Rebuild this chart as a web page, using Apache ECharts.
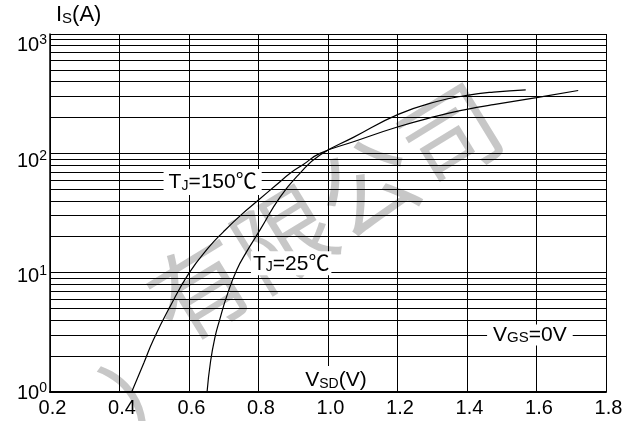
<!DOCTYPE html>
<html>
<head>
<meta charset="utf-8">
<script src="https://cdn.jsdelivr.net/npm/echarts@6/dist/echarts.min.js"></script>
<style>
html,body{margin:0;padding:0;background:#fff;}
#c{width:637px;height:421px;}
</style>
</head>
<body>
<div id="c"></div>
<script>
// ---- data ----
var xTicks = [0.2, 0.4, 0.6, 0.8, 1.0, 1.2, 1.4, 1.6, 1.8];
var yDecades = [1, 10, 100, 1000];
var yMinorLines = [2,3,4,5,6,7,8,9, 20,30,40,50,60,70,80,90, 200,300,400,500,600,700,800,900];

var t150V = [0.435, 0.470, 0.497, 0.545, 0.600, 0.656, 0.699, 0.750, 0.800, 0.850, 0.891, 0.930, 0.977, 1.073, 1.202, 1.313, 1.380, 1.437, 1.476, 1.600, 1.720];
var t150I = [1.0, 1.75, 2.72, 5.17, 9.9, 16.2, 22.0, 30.5, 40.6, 54, 68, 81, 100, 125, 167, 205, 228, 245, 256, 293, 336];

var t25V = [0.652, 0.662, 0.675, 0.688, 0.708, 0.737, 0.766, 0.804, 0.862, 0.919, 0.977, 1.073, 1.202, 1.313, 1.400, 1.476, 1.569];
var t25I = [1.0, 1.8, 2.9, 4.0, 6.27, 10.5, 15.0, 22.7, 43, 68, 97, 136, 212, 272, 306, 326, 340];

var labelTexts = {
  t150: '{b|T}{s|J}{b|=150℃}',
  t25: '{b|T}{s|J}{b|=25℃}',
  vgs: '{b|V}{s|GS}{b|=0V}',
  xName: '{b|V}{s|SD}{b|(V)}',
  yName: '{b|I}{s|S}{b|(A)}',
  watermark: '有限公司'
};

function pairs(xs, ys){ return xs.map(function(x,i){ return [x, ys[i]]; }); }

var FONT = "'Liberation Sans', Arial, 'Noto Sans CJK SC', sans-serif";
var chart = echarts.init(document.getElementById('c'), null, {renderer:'canvas'});

var richLbl = {
  b: { fontSize: 21, fontFamily: FONT, verticalAlign: 'bottom', lineHeight: 22 },
  s: { fontSize: 14, fontFamily: FONT, verticalAlign: 'bottom', lineHeight: 20 }
};
var richLbl2 = {
  b: { fontSize: 21, fontFamily: FONT, verticalAlign: 'bottom', lineHeight: 21 },
  s: { fontSize: 15, fontFamily: FONT, verticalAlign: 'bottom', lineHeight: 19 }
};

// y-label rich styles (spacer heights tune vertical placement of each label)
var yRich = {
  b: { fontSize: 20, fontFamily: FONT, color: '#000', verticalAlign: 'bottom', lineHeight: 20 },
  s: { fontSize: 14, fontFamily: FONT, color: '#000', verticalAlign: 'bottom', lineHeight: 14, padding: [0, 0, 8, 0] }
};
var ySpacer = [23, 27, 36, 42];
ySpacer.forEach(function(h, i){ yRich['h' + i] = { fontSize: 1, lineHeight: h, width: 0, verticalAlign: 'bottom' }; });

var option = {
  animation: false,
  backgroundColor: '#fff',
  textStyle: { fontFamily: FONT, color: '#000' },
  grid: { left: 50, right: 31, top: 34, bottom: 29, show: false },
  graphic: [
    {
      type: 'text', left: 56, top: 4, z: 10,
      style: {
        text: labelTexts.yName,
        rich: {
          b: { fontSize: 22, fontFamily: FONT, fill: '#000', verticalAlign: 'bottom', lineHeight: 24 },
          s: { fontSize: 15, fontFamily: FONT, fill: '#000', verticalAlign: 'bottom', lineHeight: 22 }
        }
      }
    },
    {
      type: 'text', z: -5, x: 325, y: 212, rotation: 0.55,
      style: {
        text: labelTexts.watermark, fontSize: 98, fontFamily: "'Noto Sans CJK SC', sans-serif",
        fill: 'rgba(175,175,175,0.7)', align: 'center', verticalAlign: 'middle'
      }
    },
    {
      type: 'text', z: -5, x: 157, y: 392, rotation: 0.45,
      style: {
        text: '）', fontSize: 100, fontFamily: "'Noto Sans CJK SC', sans-serif",
        fill: 'rgba(175,175,175,0.7)', align: 'center', verticalAlign: 'middle'
      }
    }
  ],
  xAxis: {
    type: 'value', min: 0.2, max: 1.8, interval: 0.2,
    axisLine: { show: true, lineStyle: { color: '#000', width: 2 } },
    axisTick: { show: false },
    axisLabel: {
      color: '#000', fontSize: 20, fontFamily: FONT, margin: 6, padding: [0, 0, 0, 5],
      formatter: function(v){ return v.toFixed(1); }
    },
    splitLine: { show: true, lineStyle: { color: '#000', width: 1 } }
  },
  yAxis: {
    type: 'log', logBase: 10, min: 1, max: 1000,
    axisLine: { show: true, lineStyle: { color: '#000', width: 1.5 } },
    axisTick: { show: false },
    axisLabel: {
      margin: 3,
      formatter: function(v){
        var e = Math.round(Math.log(v)/Math.LN10);
        return '{h' + e + '| }{b|10}{s|' + e + '}';
      },
      rich: yRich
    },
    splitLine: { show: true, lineStyle: { color: '#000', width: 1.2 } }
  },
  series: [
    {
      name: 'TJ=150', type: 'line', data: pairs(t150V, t150I),
      smooth: 0.5, showSymbol: false, symbol: 'none',
      lineStyle: { color: '#000', width: 1.2 }, z: 5,
      markLine: {
        silent: true, symbol: ['none','none'], animation: false,
        label: { show: false },
        lineStyle: { color: '#000', width: 1, type: 'solid' },
        data: yMinorLines.map(function(v){ return { yAxis: v }; }),
        z: 1
      },
      markPoint: {
        silent: true, symbol: 'rect', symbolSize: 0, animation: false, z: 20,
        label: { show: true, position: 'inside', backgroundColor: '#fff', color: '#000' },
        data: [
          { coord: [0.668, 57.4], label: { formatter: labelTexts.t150, padding: [2, 5, 2, 5], rich: richLbl } },
          { coord: [0.894, 12.0], label: { formatter: labelTexts.t25, padding: [1, 2, 1, 2], rich: richLbl } },
          { coord: [1.581, 3.0], label: { formatter: labelTexts.vgs, padding: [0, 6, 0, 6], rich: richLbl2 } },
          { coord: [1.023, 1.30], label: { formatter: labelTexts.xName, padding: [3, 2, 0, 2], rich: richLbl } }
        ]
      }
    },
    {
      name: 'TJ=25', type: 'line', data: pairs(t25V, t25I),
      smooth: 0.5, showSymbol: false, symbol: 'none',
      lineStyle: { color: '#000', width: 1.2 }, z: 5
    }
  ]
};
chart.setOption(option);
</script>
</body>
</html>
